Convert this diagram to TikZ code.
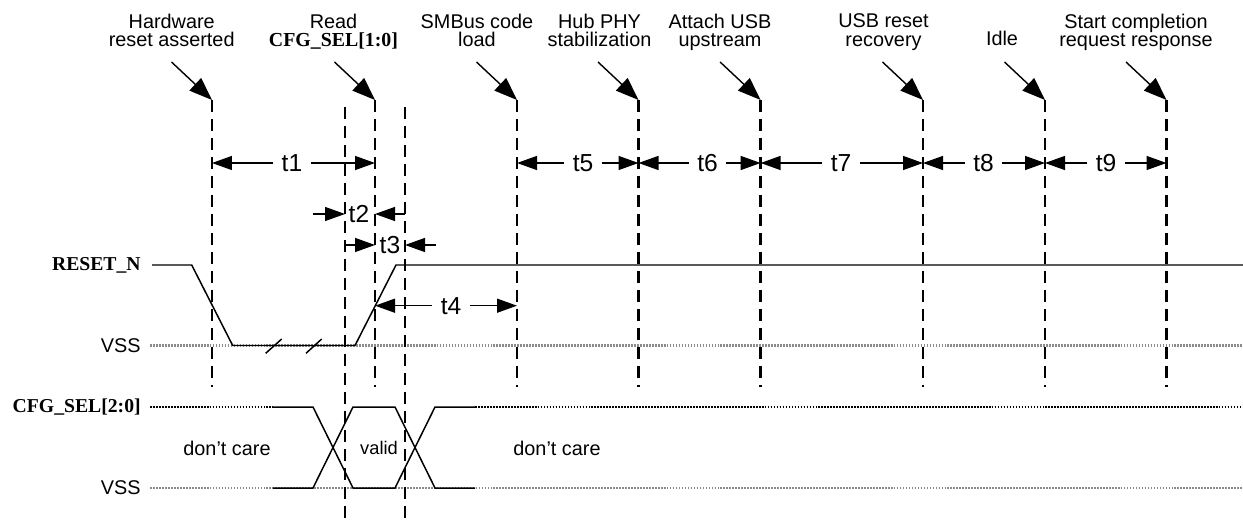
\documentclass[tikz,border=0pt]{standalone}
\usepackage{fontspec}
\setmainfont{Liberation Sans}
\newfontfamily\tnr{Liberation Serif}
\usetikzlibrary{arrows.meta}
\begin{document}
\begin{tikzpicture}[x=0.02cm,y=-0.02cm,
  evline/.style={line width=1.35pt, dash pattern=on 0.24cm off 0.14cm},
  sig/.style={line width=0.85pt, line join=miter},
  vssline/.style={line width=1.5pt, black!45, dash pattern=on 1pt off 0.7pt},
  hidot/.style={line width=1.3pt, black, dash pattern=on 1pt off 0.7pt},
  dim/.style={line width=0.8pt, -{Triangle[length=0.4cm,width=0.28cm]}},
  callout/.style={line width=0.8pt, -{Triangle[length=0.46cm,width=0.34cm]}},
  lbl/.style={font=\fontsize{11.3}{10.5}\selectfont, align=center, inner sep=0pt, anchor=north},
  tl/.style={font=\fontsize{14}{14}\selectfont, inner xsep=0.16cm, inner ysep=0pt},
  sname/.style={font=\fontsize{11.2}{11.2}\selectfont\tnr\bfseries, inner sep=0pt, anchor=east},
  vname/.style={font=\fontsize{11.3}{11.3}\selectfont, inner sep=0pt, anchor=east},
  area/.style={font=\fontsize{11.3}{11.3}\selectfont, inner sep=0pt}
]
\useasboundingbox (0,0) rectangle (1243,520);

% ---- reference levels
\draw[vssline] (150,345.5) -- (1243,345.5);
\draw[vssline] (150,488) -- (1243,488);
\draw[hidot] (150,407) -- (273,407);
\draw[hidot] (475,407) -- (1243,407);

% ---- event lines
\foreach \n/\x in {hw/212, rd/375, sm/517, hub/638.5, att/760.6, usb/923, idle/1045, st/1166.5} {
  \coordinate (\n T) at (\x,100);
  \coordinate (\n B) at (\x,387);
  \coordinate (\n S) at (\x-40.5,62);
  \draw[evline] (\n T) -- (\n B);
  \draw[callout] (\n S) -- (\n T);
}
\coordinate (aT) at (345,107); \coordinate (aB) at (345,520);
\coordinate (bT) at (405,107); \coordinate (bB) at (405,520);
\draw[evline] (aT) -- (aB);
\draw[evline] (bT) -- (bB);

% ---- event labels
\node[lbl] (Lhw)  at (171.7,13.5) {Hardware\\reset asserted};
\node[lbl] (Lrd)  at (333.5,13.5) {Read\\{\tnr\bfseries CFG\_SEL[1:0]}};
\node[lbl] (Lsm)  at (477,13.5)   {SMBus code\\load};
\node[lbl] (Lhub) at (599.5,13.5) {Hub PHY\\stabilization};
\node[lbl] (Latt) at (720,13.5)   {Attach USB\\upstream};
\node[lbl] (Lusb) at (883.5,13.5) {USB reset\\recovery};
\node[lbl, anchor=base] (Lidle) at (1002,46) {Idle};
\node[lbl] (Lst)  at (1136,13.5)  {Start completion\\request response};

% ---- timing dimensions
\node[tl] (t1) at (292,163) {t1};
\draw[dim] (t1.west) -- (t1.west -| hwT);
\draw[dim] (t1.east) -- (t1.east -| rdT);
\node[tl] (t5) at (583,163) {t5};
\draw[dim] (t5.west) -- (t5.west -| smT);
\draw[dim] (t5.east) -- (t5.east -| hubT);
\node[tl] (t6) at (707.5,163) {t6};
\draw[dim] (t6.west) -- (t6.west -| hubT);
\draw[dim] (t6.east) -- (t6.east -| attT);
\node[tl] (t7) at (841,163) {t7};
\draw[dim] (t7.west) -- (t7.west -| attT);
\draw[dim] (t7.east) -- (t7.east -| usbT);
\node[tl] (t8) at (983.5,163) {t8};
\draw[dim] (t8.west) -- (t8.west -| usbT);
\draw[dim] (t8.east) -- (t8.east -| idleT);
\node[tl] (t9) at (1106,163) {t9};
\draw[dim] (t9.west) -- (t9.west -| idleT);
\draw[dim] (t9.east) -- (t9.east -| stT);

\node[tl, inner xsep=0pt] (t2) at (359,214) {t2};
\coordinate (t2a) at (313,214);
\draw[dim] (t2a) -- (t2a -| aT);
\draw[dim] (t2 -| bT) -- (t2 -| rdT);

\node[tl, inner xsep=0pt] (t3) at (390,245) {t3};
\coordinate (t3c) at (436,245);
\draw[dim] (t3 -| aT) -- (t3 -| rdT);
\draw[dim] (t3c) -- (t3 -| bT);

\node[tl] (t4) at (451,305.7) {t4};
\draw[dim] (t4.west) -- (t4.west -| rdT);
\draw[dim] (t4.east) -- (t4.east -| smT);

% ---- signal names
\node[sname] (nreset) at (141,265) {RESET\_N};
\node[vname] (vss1) at (141,345.5) {VSS};
\node[sname] (ncfg) at (141,407) {CFG\_SEL[2:0]};
\node[vname] (vss2) at (141,488) {VSS};

% ---- RESET_N waveform
\draw[sig] (152,265) -- (191.7,265) -- (232.7,345.5) -- (355,345.5) -- (396,265) -- (1243,265);
\draw[sig] (265.7,353.3) -- (281.7,339);
\draw[sig] (306,353.3) -- (321.7,339);

% ---- CFG_SEL waveform
\draw[sig] (273,407) -- (313,407) -- (353,488) -- (395,488) -- (435,407) -- (475,407);
\draw[sig] (273,488) -- (313,488) -- (353,407) -- (395,407) -- (435,488) -- (475,488);

\node[area] (dc1) at (227,448) {don’t care};
\node[area, font=\fontsize{10.4}{10.4}\selectfont] (vld) at (379,448) {valid};
\node[area] (dc2) at (557,448) {don’t care};
\end{tikzpicture}
\end{document}
